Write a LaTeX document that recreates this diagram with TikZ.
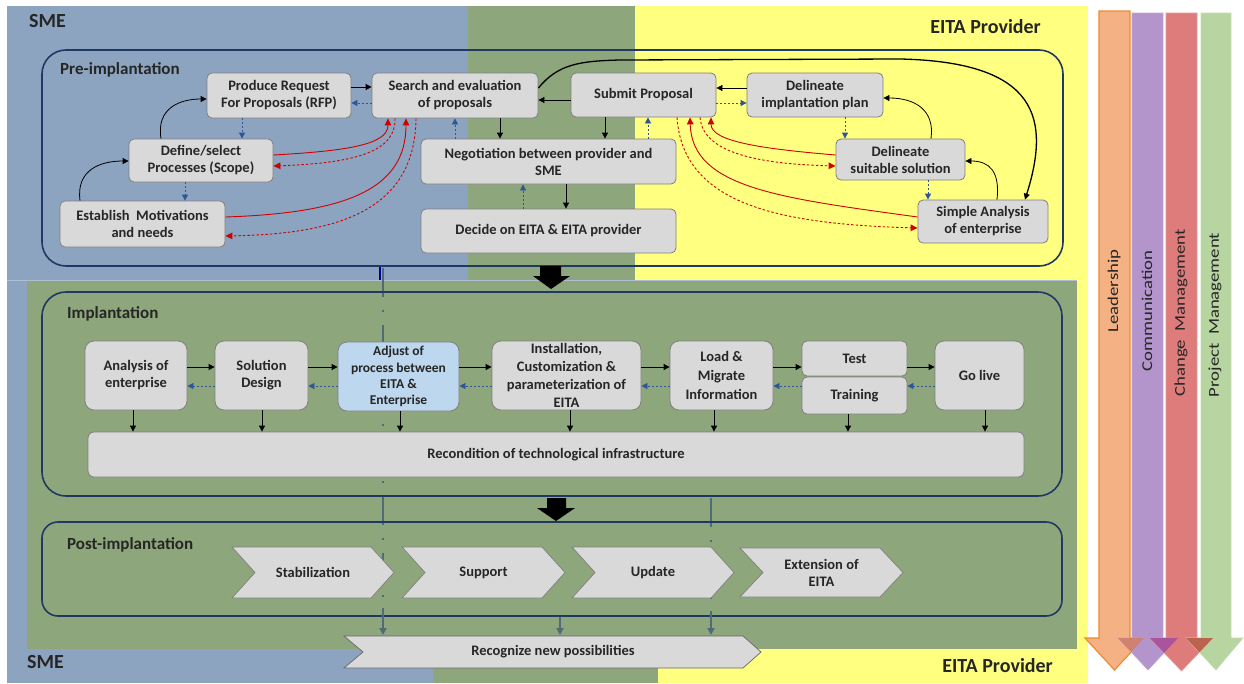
\documentclass[tikz,border=0pt]{standalone}
\usepackage{fontspec}
\setmainfont{Carlito}
\usetikzlibrary{arrows.meta}
\definecolor{smeblue}{HTML}{8CA4BF}
\definecolor{egreen}{HTML}{8EA67B}
\definecolor{eyellow}{HTML}{FFFF80}
\definecolor{boxgray}{HTML}{D9D9D9}
\definecolor{boxedge}{HTML}{7F7F7F}
\definecolor{framec}{HTML}{203864}
\definecolor{dblue}{HTML}{2F5597}
\definecolor{ared}{HTML}{D00000}
\definecolor{lgray}{HTML}{506A78}
\definecolor{adjblue}{HTML}{BDD7EE}
\definecolor{txt}{HTML}{262626}
\definecolor{leadc}{HTML}{F4B183}
\definecolor{leade}{HTML}{F08A30}
\definecolor{commc}{HTML}{B394CB}
\definecolor{chgc}{HTML}{DE7C7C}
\definecolor{projc}{HTML}{B6D5A0}
\definecolor{ovlc}{HTML}{CF8271}
\definecolor{ovcc}{HTML}{A8559C}
\definecolor{ovcp}{HTML}{B9644F}
\newcommand\mybox[7][]{%
  \pgfmathsetmacro\bxcx{(#3+#5)/2}%
  \pgfmathsetmacro\bxcy{(#4+#6)/2}%
  \pgfmathsetmacro\bxw{#5-#3}%
  \pgfmathsetmacro\bxh{#6-#4}%
  \node[box,minimum width=\bxw pt,minimum height=\bxh pt,#1] (#2) at (\bxcx,\bxcy) {#7};}
% chevron: name, x1, x2, y1, y2, notch, text
\newcommand\mychev[7]{%
  \pgfmathsetmacro\chm{(#4+#5)/2}%
  \pgfmathsetmacro\chc{(#2+#3)/2}%
  \draw[chevst] (#2,#4) -- ({#3-#6},#4) -- (#3,\chm) -- ({#3-#6},#5) -- (#2,#5) -- ({#2+#6},\chm) -- cycle;
  \node[chevtxt] (#1) at (\chc,\chm) {#7};}
\newcommand\stretchtxt[1]{\scalebox{1.25}[1]{#1}}
\begin{document}
\begin{tikzpicture}[x=1pt,y=-1pt,
  box/.style={draw=boxedge, fill=boxgray, rounded corners=5pt, line width=0.8pt,
    align=center, inner sep=1pt, text=txt,
    font=\fontsize{14.5}{17}\selectfont\bfseries},
  frame/.style={fill=none, draw=framec, line width=1.6pt, rounded corners=24pt},
  lbl/.style={anchor=west, inner sep=0pt, text=txt, font=\fontsize{17}{20}\selectfont\bfseries},
  region/.style={inner sep=0pt, text=txt, font=\fontsize{20}{24}\selectfont\bfseries},
  tip/.style={-{Triangle[length=6pt,width=6pt]}},
  blk/.style={tip, draw=black, line width=0.8pt},
  bdash/.style={-{Triangle[length=6pt,width=6pt]}, draw=dblue, line width=0.8pt, dash pattern=on 2pt off 2pt},
  rsol/.style={-{Triangle[length=7pt,width=6.5pt]}, draw=ared, line width=0.9pt},
  rdash/.style={-{Triangle[length=7pt,width=6.5pt]}, draw=ared, line width=0.9pt, dash pattern=on 2.5pt off 2pt},
  ddot/.style={draw=lgray, line width=1.8pt, dash pattern=on 29pt off 13pt on 2pt off 13pt},
  garr/.style={-{Triangle[length=7pt,width=7pt]}, draw=lgray, line width=1.8pt},
  chevst/.style={draw=boxedge, fill=boxgray, line width=0.7pt},
  chevtxt/.style={align=center, inner sep=0pt, text=txt, font=\fontsize{14.5}{17}\selectfont\bfseries},
  side/.style={rotate=90, inner sep=0pt, text=txt, font=\fontsize{15}{18}\selectfont}
]
\useasboundingbox (0,0) rectangle (1244,683);
% ---------- background regions
\fill[smeblue] (7,6) rectangle (468,281);
\fill[smeblue] (7,280) rectangle (433,683);
\fill[egreen] (468,6) rectangle (635,281);
\fill[eyellow] (635,6) rectangle (1088,281);
\fill[egreen] (27,281) rectangle (1077,649);
\fill[eyellow] (1077,281) rectangle (1088,683);
\fill[egreen] (433,649) rectangle (658,683);
\fill[eyellow] (658,649) rectangle (1088,683);
\draw[color=smeblue!70!white, line width=0.8pt] (7,280.5) -- (1077,280.5);
% ---------- region labels
\node[region, anchor=west] (smeT) at (29,21) {SME};
\node[region, anchor=east] (eitaT) at (1041,27) {EITA Provider};
\node[region, anchor=west] (smeB) at (27,662) {SME};
\node[region, anchor=east] (eitaB) at (1053,666) {EITA Provider};
% ---------- dash-dot guide lines (under the boxes)
\coordinate (g1a) at (383,268);
\coordinate (g1b) at (383,608);
\coordinate (g2a) at (711,498);
\coordinate (g2b) at (711,611);
\coordinate (g1t) at (380,280);
\draw[ddot] (g1a) -- (g1b);
\draw[ddot] (g2a) -- (g2b);
% ---------- containers
\mybox[frame]{pre}{42}{50}{1063}{266}{}
\mybox[frame]{impl}{42}{292}{1062}{496}{}
\mybox[frame, rounded corners=16pt]{post}{42}{522}{1062}{616}{}
\node[lbl] (preL) at (60,70) {Pre-implantation};
\node[lbl] (implL) at (67,314) {Implantation};
\node[lbl] (postL) at (67,545) {Post-implantation};
\draw[draw=blue!60!black, line width=2.4pt] (pre.south -| g1t) -- (g1t);
% ---------- block arrows between phases
\fill[black] (540,266) -- (561,266) -- (561,276) -- (570,276) -- (551,289) -- (533,276) -- (540,276) -- cycle;
\fill[black] (547,498) -- (566,498) -- (566,508) -- (575,508) -- (556,521) -- (537,508) -- (547,508) -- cycle;
% ---------- pre-implantation boxes
\mybox{rfp}{207}{73}{351}{118}{Produce Request\\For Proposals (RFP)}
\mybox{search}{372}{73}{538}{118}{Search and evaluation\\of proposals}
\mybox{submit}{571}{73}{716}{117}{Submit Proposal}
\mybox{plan}{747}{73}{883}{117}{Delineate\\implantation plan}
\mybox{define}{129}{139}{273}{182}{Define/select\\Processes (Scope)}
\mybox{nego}{421}{139}{676}{184}{Negotiation between provider and\\SME}
\mybox{suit}{836}{139}{965}{180}{Delineate\\suitable solution}
\mybox{establish}{60}{201}{225}{247}{Establish\ \ Motivations\\and needs}
\mybox{decide}{421}{209}{676}{253}{Decide on EITA \& EITA provider}
\mybox{simple}{918}{200}{1048}{243}{Simple Analysis\\of enterprise}
% straight connectors
\draw[blk] (rfp.east |- 0,87) -- (search.west |- 0,87);
\draw[bdash] (search.west |- 0,103) -- (rfp.east |- 0,103);
\draw[blk] (submit.west |- 0,100) -- (search.east |- 0,100);
\draw[blk] (plan.west |- 0,88) -- (submit.east |- 0,88);
\draw[bdash] (submit.east |- 0,103) -- (plan.west |- 0,103);
\draw[bdash] (rfp.south -| 242,0) -- (define.north -| 242,0);
\draw[bdash] (define.south -| 185,0) -- (establish.north -| 185,0);
\draw[bdash] (nego.north -| 455,0) -- (search.south -| 455,0);
\draw[blk] (search.south -| 500,0) -- (nego.north -| 500,0);
\draw[blk] (submit.south -| 605,0) -- (nego.north -| 605,0);
\draw[blk] (nego.south -| 566,0) -- (decide.north -| 566,0);
\draw[bdash] (decide.north -| 523,0) -- (nego.south -| 523,0);
\draw[bdash] (nego.north -| 648,0) -- (submit.south -| 648,0);
\draw[bdash] (plan.south -| 845,0) -- (suit.north -| 845,0);
\draw[bdash] (suit.south -| 928,0) -- (simple.north -| 928,0);
% curved black connectors
\draw[blk] (establish.north -| 80,0) .. controls (76,170) and (100,161) .. (define.west |- 0,161);
\draw[blk] (define.north -| 161,0) .. controls (156,108) and (180,99) .. (rfp.west |- 0,99);
\draw[blk] (simple.north -| 997,0) .. controls (1000,172) and (990,161) .. (suit.east |- 0,161);
\draw[blk] (suit.north -| 931,0) .. controls (935,110) and (915,98) .. (plan.east |- 0,98);
\draw[blk, line width=1.3pt] (search.east |- 0,88) .. controls (558,64) and (580,61) .. (620,60) -- (900,59) .. controls (1040,62) and (1050,120) .. (simple.north -| 1025,0);
% red connectors
\draw[rsol] (define.east |- 0,155) .. controls (345,151) and (388,145) .. (search.south -| 388,0);
\draw[rdash] (search.south -| 395,0) .. controls (396,150) and (360,163) .. (define.east |- 0,166);
\draw[rsol] (establish.east |- 0,217) .. controls (345,213) and (406,190) .. (search.south -| 406,0);
\draw[rdash] (search.south -| 416,0) .. controls (415,215) and (330,234) .. (establish.east |- 0,236);
\draw[rsol] (suit.west |- 0,155) .. controls (765,149) and (711,142) .. (submit.south -| 711,0);
\draw[rdash] (submit.south -| 700,0) .. controls (703,155) and (765,164) .. (suit.west |- 0,166);
\draw[rsol] (simple.west |- 0,217) .. controls (780,198) and (692,188) .. (submit.south -| 690,0);
\draw[rdash] (submit.south -| 677,0) .. controls (683,205) and (780,224) .. (simple.west |- 0,228);
% ---------- implantation boxes
\mybox[rounded corners=9pt]{ana}{85}{341}{187}{410}{Analysis of\\enterprise}
\mybox[rounded corners=9pt]{sol}{215}{341}{308}{410}{Solution\\Design}
\mybox[rounded corners=9pt, fill=adjblue, font=\fontsize{13.5}{16.3}\selectfont\bfseries]{adj}{338}{342}{459}{411}{Adjust of\\process between\\EITA \&\\Enterprise}
\mybox[rounded corners=9pt, font=\fontsize{14.5}{18.2}\selectfont\bfseries]{inst}{492}{341}{641}{410}{Installation,\\Customization \&\\parameterization of\\EITA}
\mybox[rounded corners=9pt, font=\fontsize{14.5}{19}\selectfont\bfseries]{load}{670}{341}{773}{410}{Load \&\\Migrate\\Information}
\mybox{test}{802}{341}{907}{376}{Test}
\mybox{train}{802}{377}{907}{414}{Training}
\mybox[rounded corners=9pt]{golive}{935}{341}{1024}{410}{Go live}
\mybox[rounded corners=6pt]{rec}{88}{432}{1024}{477}{Recondition of technological infrastructure}
\draw[blk] (ana.east |- 0,367) -- (sol.west |- 0,367);
\draw[blk] (sol.east |- 0,367) -- (adj.west |- 0,367);
\draw[blk] (adj.east |- 0,367) -- (inst.west |- 0,367);
\draw[blk] (inst.east |- 0,367) -- (load.west |- 0,367);
\draw[blk] (load.east |- 0,367) -- (test.west |- 0,367);
\draw[blk] (test.east |- 0,367) -- (golive.west |- 0,367);
\draw[bdash] (sol.west |- 0,386) -- (ana.east |- 0,386);
\draw[bdash] (adj.west |- 0,386) -- (sol.east |- 0,386);
\draw[bdash] (inst.west |- 0,386) -- (adj.east |- 0,386);
\draw[bdash] (load.west |- 0,386) -- (inst.east |- 0,386);
\draw[bdash] (train.west |- 0,386) -- (load.east |- 0,386);
\draw[bdash] (golive.west |- 0,386) -- (train.east |- 0,386);
\draw[blk] (ana.south -| 133,0) -- (rec.north -| 133,0);
\draw[blk] (sol.south -| 262,0) -- (rec.north -| 262,0);
\draw[blk] (adj.south -| 400,0) -- (rec.north -| 400,0);
\draw[blk] (inst.south -| 570,0) -- (rec.north -| 570,0);
\draw[blk] (load.south -| 714,0) -- (rec.north -| 714,0);
\draw[blk] (train.south -| 848,0) -- (rec.north -| 848,0);
\draw[blk] (golive.south -| 985,0) -- (rec.north -| 985,0);
% ---------- post-implantation chevrons
\mychev{stab}{232}{394}{547}{598}{23}{Stabilization}
\mychev{supp}{402}{565}{547}{598}{23}{Support}
\mychev{upd}{572}{734}{547}{598}{23}{Update}
\mychev{ext}{740}{903}{548}{597}{23}{Extension of\\EITA}
\draw[chevst, draw=black!60] (344,636) -- (743,636) -- (761,652) -- (743,668) -- (344,668) -- (363,652) -- cycle;
\node[chevtxt] (recog) at (553,652) {Recognize new possibilities};
\draw[garr] (g1b) -- (383,635);
\draw[garr] (post.south -| 560,0) -- (560,635);
\draw[garr] (g2b) -- (711,635);
% ---------- right side arrows
\filldraw[fill=leadc, draw=leade, line width=1.2pt] (1099,11) -- (1130,11) -- (1130,638) -- (1144,638) -- (1114.5,670) -- (1085,638) -- (1099,638) -- cycle;
\filldraw[fill=commc, draw=commc!80!white, line width=0.6pt] (1132,13) -- (1163,13) -- (1163,638) -- (1178,638) -- (1148,670) -- (1118,638) -- (1132,638) -- cycle;
\filldraw[fill=chgc, draw=chgc!80!white, line width=0.6pt] (1166,13) -- (1197,13) -- (1197,638) -- (1213,638) -- (1181.5,671) -- (1150,638) -- (1166,638) -- cycle;
\filldraw[fill=projc, draw=projc!80!white, line width=0.6pt] (1201,13) -- (1231,13) -- (1231,638) -- (1243,638) -- (1216,670) -- (1186,638) -- (1201,638) -- cycle;
\begin{scope}
  \clip (1085,638) -- (1144,638) -- (1114.5,670) -- cycle;
  \fill[ovlc] (1118,638) -- (1178,638) -- (1148,670) -- cycle;
\end{scope}
\begin{scope}
  \clip (1118,638) -- (1178,638) -- (1148,670) -- cycle;
  \fill[ovcc] (1150,638) -- (1213,638) -- (1181.5,671) -- cycle;
\end{scope}
\begin{scope}
  \clip (1150,638) -- (1213,638) -- (1181.5,671) -- cycle;
  \fill[ovcp] (1186,638) -- (1243,638) -- (1216,670) -- cycle;
\end{scope}
\node[side] (lead) at (1114,291) {\stretchtxt{Leadership}};
\node[side] (comm) at (1147,311) {\stretchtxt{Communication}};
\node[side] (chg) at (1181,313) {\stretchtxt{Change\ \ Management}};
\node[side] (proj) at (1215,315) {\stretchtxt{Project\ \ Management}};
\end{tikzpicture}
\end{document}
